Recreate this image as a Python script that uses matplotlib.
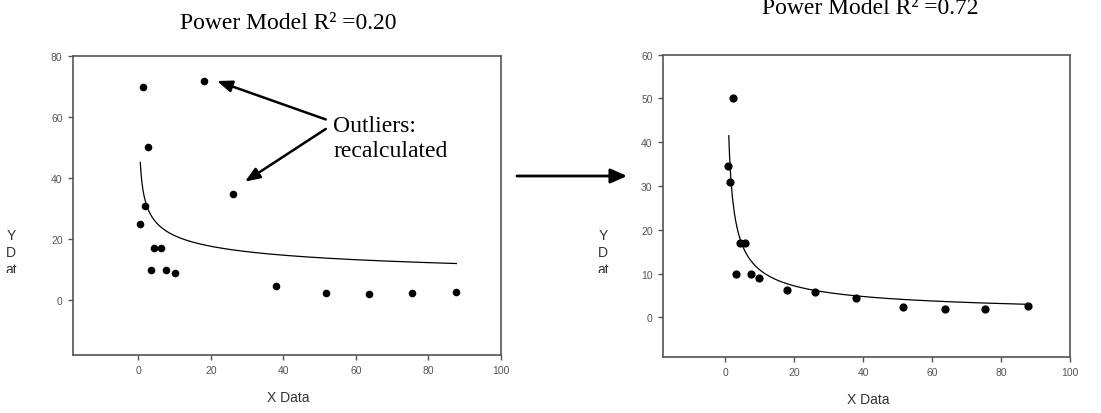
import numpy as np
import matplotlib
matplotlib.use("Agg")
import matplotlib.pyplot as plt
from matplotlib.patches import FancyArrowPatch
from matplotlib.transforms import Bbox

# left panel: raw data incl. outliers
x_before = [1.3, 18.0, 2.6, 26.2, 1.75, 0.55, 4.4, 6.2, 3.6, 7.55, 10.0, 38.0, 51.7, 63.5, 75.4, 87.7]
y_before = [69.8, 71.8, 50.1, 34.9, 30.9, 25.1, 17.0, 17.0, 9.85, 9.85, 9.0, 4.5, 2.3, 1.9, 2.4, 2.8]

# right panel: outliers recalculated
x_after = [0.96, 2.2, 1.5, 4.2, 5.9, 3.3, 7.4, 9.9, 17.9, 26.0, 38.0, 51.6, 63.6, 75.4, 87.8]
y_after = [34.6, 50.0, 30.8, 17.0, 17.0, 9.8, 9.8, 9.0, 6.3, 5.85, 4.4, 2.35, 1.9, 2.0, 2.6]

# power model y = a * x^b, coefficients
fit_before = (38.6, -0.2615, 0.55, 87.7)
fit_after = (42.96, -0.597, 1.06, 87.8)

r2_before = 0.20
r2_after = 0.72

grey = '#555555'
serif = 'Liberation Serif'
sans = 'Liberation Sans'

fig = plt.figure(figsize=(11.01, 4.14), dpi=100)
ax1 = fig.add_axes([0.0663, 0.1401, 0.3887, 0.7222])
ax2 = fig.add_axes([0.6022, 0.1360, 0.3697, 0.7295])


def style(ax, xlim, ylim, yticks):
    ax.set_xlim(*xlim)
    ax.set_ylim(*ylim)
    ax.set_xticks([0, 20, 40, 60, 80, 100])
    ax.set_yticks(yticks)
    for s in ax.spines.values():
        s.set_color(grey)
        s.set_linewidth(1.2)
    ax.tick_params(direction='out', length=3.5, width=1, color=grey,
                   labelcolor=grey, labelsize=7.5, pad=4)
    for lab in ax.get_xticklabels() + ax.get_yticklabels():
        lab.set_family(sans)


def power_curve(ax, fit):
    a, b, x0, x1 = fit
    xs = np.linspace(x0, x1, 400)
    ax.plot(xs, a * xs ** b, color='black', lw=0.9)


ax1.scatter(x_before, y_before, s=20, color='black', zorder=3)
power_curve(ax1, fit_before)
style(ax1, (-18, 100), (-18, 80), [0, 20, 40, 60, 80])

ax2.scatter(x_after, y_after, s=24, color='black', zorder=3)
power_curve(ax2, fit_after)
style(ax2, (-18, 100), (-9, 60), [0, 10, 20, 30, 40, 50, 60])

# titles
fig.text(0.2616, 1 - 29 / 414, 'Power Model R\u00b2 =%.2f' % r2_before, ha='center',
         va='baseline', fontsize=17, family=serif)
fig.text(0.7906, 1 - 14 / 414, 'Power Model R\u00b2 =%.2f' % r2_after, ha='center',
         va='baseline', fontsize=17, family=serif)

# axis labels
fig.text(288 / 1101, 1 - 398 / 414, 'X Data', ha='center', va='center', fontsize=10,
         family=sans, color='#333333')
fig.text(868 / 1101, 1 - 400 / 414, 'X Data', ha='center', va='center', fontsize=10,
         family=sans, color='#333333')
clip = Bbox([[0, 414 - 274], [1101, 414]])
for xp in (11, 603):
    t = fig.text(xp / 1101, 1 - 229 / 414, 'Y\nD\nat', ha='center', va='top', fontsize=10,
                 family=sans, color='#333333', linespacing=1.25, multialignment='center')
    t.set_clip_box(clip)
    t.set_clip_on(True)

# outlier annotation
ax1.text(53.7, 60.8, 'Outliers:\nrecalculated', fontsize=17, family=serif, va='top',
         ha='left', linespacing=1.25)
arrow = dict(arrowstyle='-|>,head_length=0.9,head_width=0.35', color='black', lw=1.8,
             shrinkA=0, shrinkB=0)
ax1.annotate('', xy=(21.7, 71.8), xytext=(51.7, 59.2), arrowprops=arrow)
ax1.annotate('', xy=(29.4, 38.8), xytext=(51.7, 56.1), arrowprops=arrow)

# arrow between the panels
fig.add_artist(FancyArrowPatch(
    (517 / 1101, 1 - 177 / 414), (627 / 1101, 1 - 177 / 414), transform=fig.transFigure,
    arrowstyle='-|>,head_length=0.9,head_width=0.4', mutation_scale=11, color='black',
    lw=2, shrinkA=0, shrinkB=0))

fig.savefig('out.png', dpi=100)
